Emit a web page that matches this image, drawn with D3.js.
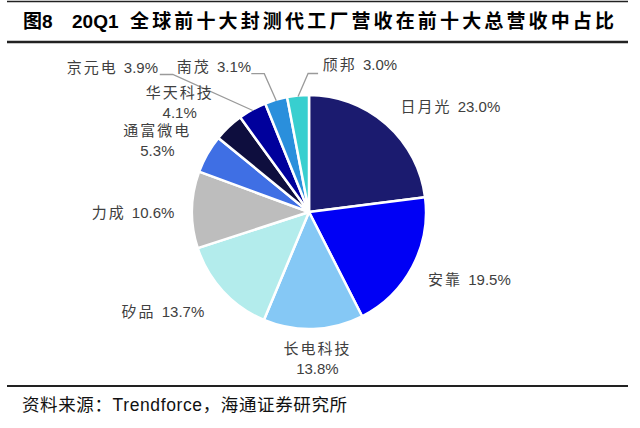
<!DOCTYPE html>
<html>
<head>
<meta charset="utf-8">
<script src="https://cdn.jsdelivr.net/npm/d3@7"></script>
<style>
  body { margin: 0; background: #fff; }
  svg { display: block; }
</style>
</head>
<body>
<script>
const companies = ["日月光", "安靠", "长电科技", "矽品", "力成", "通富微电", "华天科技", "京元电", "南茂", "颀邦"]
const shares = [23.0, 19.5, 13.8, 13.7, 10.6, 5.3, 4.1, 3.9, 3.1, 3.0]
const colors = ["#1b1b6f", "#0000f5", "#85c8f5", "#b3ecec", "#bdbdbd", "#3f6fe4", "#0e0e3e", "#00009c", "#2a8fdc", "#38cfcf"]

// label layout: offset from the slice's outer edge point, two-line or not, leader elbow
const labelOffset = [[64, -17], [57, 13], [4, 29], [-60, 21], [-59, 3], [-50, -14], [-49, -25], [-140, -42], [-62, -33], [62, -31]]
const twoLine = [false, false, true, false, false, true, true, false, false, false]
const elbow = [null, null, null, null, null, null, null, [-80, -36], [-12, -27], [10, -23]]

const width = 640
const height = 428
const cx = 309
const cy = 212
const radius = 117

const svg = d3.select("body")
    .append("svg")
    .attr("width", width)
    .attr("height", height)
    .attr("viewBox", [0, 0, width, height])

const latin = "'Liberation Sans', Arial, 'Noto Sans CJK SC', sans-serif"

// title block
svg.append("line").attr("x1", 7).attr("x2", 628).attr("y1", 1.5).attr("y2", 1.5)
    .attr("stroke", "#222").attr("stroke-width", 1.5)
svg.append("line").attr("x1", 7).attr("x2", 628).attr("y1", 42).attr("y2", 42)
    .attr("stroke", "#222").attr("stroke-width", 2.5)
svg.append("text").attr("x", 23).attr("y", 28)
    .style("font-family", latin).style("font-size", "19px").style("font-weight", "bold")
    .text("图8")
svg.append("text").attr("x", 72).attr("y", 28)
    .style("font-family", latin).style("font-size", "19px").style("font-weight", "bold")
    .text("20Q1")
svg.append("text").attr("x", 130).attr("y", 28)
    .attr("textLength", 484).attr("lengthAdjust", "spacing")
    .style("font-family", latin).style("font-size", "19px").style("font-weight", "bold")
    .text("全球前十大封测代工厂营收在前十大总营收中占比")

// source
svg.append("line").attr("x1", 7).attr("x2", 628).attr("y1", 386).attr("y2", 386)
    .attr("stroke", "#222").attr("stroke-width", 2)
svg.append("text").attr("x", 22).attr("y", 411)
    .attr("textLength", 325).attr("lengthAdjust", "spacing")
    .style("font-family", latin).style("font-size", "17.5px").attr("fill", "#111")
    .text("资料来源：Trendforce，海通证券研究所")

// pie
const pie = d3.pie().sort(null).value(d => d)
const arcs = pie(shares)
const arc = d3.arc().innerRadius(0).outerRadius(radius)

const g = svg.append("g").attr("transform", `translate(${cx},${cy})`)

g.selectAll(".slice")
    .data(arcs)
    .enter()
    .append("path")
    .attr("class", "slice")
    .attr("d", arc)
    .attr("fill", (d, i) => colors[i])
    .attr("stroke", "#fff")
    .attr("stroke-width", 2.5)
    .attr("stroke-linejoin", "round")

const edgePoint = (d, r) => {
    const a = (d.startAngle + d.endAngle) / 2
    return [r * Math.sin(a), -r * Math.cos(a)]
}

// leader lines
arcs.forEach((d, i) => {
    if (!elbow[i]) return
    const p = edgePoint(d, radius - 1)
    const e = [p[0] + elbow[i][0], p[1] + elbow[i][1]]
    const l = [p[0] + labelOffset[i][0], p[1] + labelOffset[i][1]]
    const labelEdge = elbow[i][0] < 0 ? e[0] + 13 * Math.sign(l[0] - e[0]) : e[0] + 10
    g.append("polyline")
        .attr("points", [[p[0], p[1]], e, [labelEdge, e[1]]].map(q => q.join(",")).join(" "))
        .attr("fill", "none")
        .attr("stroke", "#9a9a9a")
        .attr("stroke-width", 1.3)
})

// labels
const labels = g.selectAll(".label")
    .data(arcs)
    .enter()
    .append("text")
    .attr("class", "label")
    .attr("text-anchor", "middle")
    .attr("fill", "#404040")
    .style("font-family", latin)
    .style("font-size", "15px")
    .attr("transform", (d, i) => {
        const p = edgePoint(d, radius)
        return `translate(${p[0] + labelOffset[i][0]},${p[1] + labelOffset[i][1]})`
    })

labels.each(function (d, i) {
    const t = d3.select(this)
    const pct = d3.format(".1f")(shares[i]) + "%"
    if (twoLine[i]) {
        t.append("tspan").attr("x", 0).attr("y", -4).style("letter-spacing", "2px").text(companies[i])
        t.append("tspan").attr("x", 0).attr("y", 16).text(pct)
    } else {
        t.append("tspan").attr("y", 5).style("letter-spacing", "2px").text(companies[i] + " ")
        t.append("tspan").text(pct)
    }
})
</script>
</body>
</html>
